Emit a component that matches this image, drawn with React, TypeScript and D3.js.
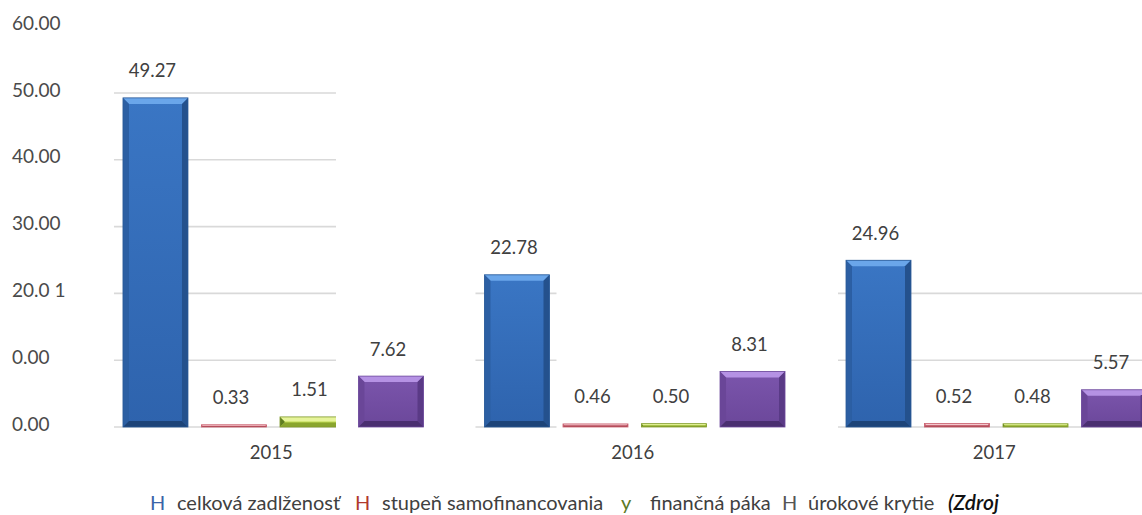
import React from "react";
import * as d3 from "d3";

const YEARS = ["2015", "2016", "2017"];
const SERIES = ["celková zadlženosť", "stupeň samofinancovania", "finančná páka", "úrokové krytie"];
const ZADLZENOST = [49.27, 22.78, 24.96];
const SAMOFINANCOVANIE = [0.33, 0.46, 0.52];
const PAKA = [1.51, 0.5, 0.48];
const KRYTIE = [7.62, 8.31, 5.57];
const Y_TICKS = [0, 10, 20, 30, 40, 50, 60];
const Y_TICK_LABELS = ["0.00", "0.00", "20.0 1", "30.00", "40.00", "50.00", "60.00"];
const LEGEND_MARKS = ["H", "H", "y", "H"];
const SOURCE_TEXT = "(Zdroj";
// gridlines that are visible in each year's segment of the (scanned) picture
const GRID_2015 = [0, 10, 20, 30, 40, 50];
const GRID_2016 = [0, 10, 20];
const GRID_2017 = [0, 10, 20];

const W = 1142;
const H = 515;
const FONT = "Lato, 'Open Sans', sans-serif";
const TEXT = "#404040";

const STYLES = [
  { face: "#3a76c4", faceDark: "#2e63ad", top: "#6aa6ea", side: "#2c5fa3", right: "#24518d", bottom: "#1d4478", stroke: "#2a5a97" },
  { face: "#e7a0aa", faceDark: "#d77f8c", top: "#f4c7cd", side: "#c96271", right: "#b8505f", bottom: "#a9414f", stroke: "#c9606f" },
  { face: "#c6df5c", faceDark: "#b6d245", top: "#e6f49a", side: "#5f7d22", right: "#9fbb3a", bottom: "#8aa52e", stroke: "#7f9a2c" },
  { face: "#7b55ac", faceDark: "#6b479a", top: "#b592e4", side: "#6a4698", right: "#5a3a86", bottom: "#4a2f70", stroke: "#6d4a9c" },
];
const LEGEND_COLORS = ["#3a64a8", "#b0392e", "#5d7a26", "#555555"];

function Bar({ x, y, w, h, s, id }: any) {
  const b = Math.max(0, Math.min(6, h / 2.2, w / 4));
  return (
    <g>
      <defs>
        <linearGradient id={id} x1="0" y1="0" x2="0" y2="1">
          <stop offset="0" stopColor={s.face} />
          <stop offset="1" stopColor={s.faceDark} />
        </linearGradient>
      </defs>
      <rect x={x} y={y} width={w} height={h} fill={`url(#${id})`} />
      <polygon points={`${x},${y} ${x + w},${y} ${x + w - b},${y + b} ${x + b},${y + b}`} fill={s.top} />
      <polygon points={`${x},${y} ${x + b},${y + b} ${x + b},${y + h - b} ${x},${y + h}`} fill={s.side} />
      <polygon points={`${x + w},${y} ${x + w - b},${y + b} ${x + w - b},${y + h - b} ${x + w},${y + h}`} fill={s.right} />
      <polygon points={`${x},${y + h} ${x + b},${y + h - b} ${x + w - b},${y + h - b} ${x + w},${y + h}`} fill={s.bottom} />
      <rect x={x} y={y} width={w} height={h} fill="none" stroke={s.stroke} strokeWidth={0.8} />
    </g>
  );
}

export default function App() {
  const values = [ZADLZENOST, SAMOFINANCOVANIE, PAKA, KRYTIE];
  const y = d3.scaleLinear().domain([0, 60]).range([427, 26.2]);
  const x0 = d3.scaleBand<string>().domain(YEARS).range([92.5, 1177]).paddingInner(0.1687).paddingOuter(0.0843);
  const x1 = d3.scaleBand<string>().domain(SERIES).range([0, x0.bandwidth()]).paddingInner(0.172).paddingOuter(0);
  const bw = x1.bandwidth();

  const gridSegs = [
    { vals: GRID_2015, a: x0(YEARS[0])! - 9, b: x0(YEARS[0])! + x1(SERIES[2])! + 56 },
    { vals: GRID_2016, a: x0(YEARS[1])! - 9, b: x0(YEARS[1])! + bw + 7 },
    { vals: GRID_2017, a: x0(YEARS[2])! - 8, b: W },
  ];
  const clip2015 = gridSegs[0];

  const legendLayout = [
    { mark: 150, label: 177 },
    { mark: 355, label: 382 },
    { mark: 621, label: 650 },
    { mark: 782, label: 808 },
  ];

  return (
    <svg width={W} height={H} style={{ position: "absolute", left: 0, top: 0, background: "#fff" }} fontFamily={FONT}>
      <defs>
        <clipPath id="clip2015">
          <rect x={clip2015.a} y={0} width={clip2015.b - clip2015.a} height={H} />
        </clipPath>
      </defs>
      {/* gridlines */}
      {gridSegs.map((g, i) =>
        g.vals.map((v) => (
          <line key={`g${i}-${v}`} x1={g.a} x2={g.b} y1={y(v)} y2={y(v)} stroke="#d9d9d9" strokeWidth={1.6} />
        ))
      )}
      {/* y tick labels */}
      {Y_TICKS.map((t, i) => (
        <text key={`yt${t}`} x={12} y={y(t) - 3} dy="0.35em" fontSize={19} fill="#4a4a4a">
          {Y_TICK_LABELS[i]}
        </text>
      ))}
      {/* bars */}
      {YEARS.map((yr, yi) => (
        <g key={yr} transform={`translate(${x0(yr)},0)`}>
          {SERIES.map((s, si) => {
            const v = values[si][yi];
            const bx = x1(s)!;
            const top = y(v);
            const h = y(0) - top;
            const bar = <Bar key={s} id={`gr${yi}${si}`} x={bx} y={top} w={bw} h={h} s={STYLES[si]} />;
            const clipped = yi === 0 && si === 2;
            return (
              <g key={s}>
                {clipped ? (
                  <g transform={`translate(${-x0(yr)!},0)`} clipPath="url(#clip2015)">
                    <g transform={`translate(${x0(yr)},0)`}>{bar}</g>
                  </g>
                ) : (
                  bar
                )}
                <text x={bx + bw / 2 - 3} y={top - 27} dy="0.35em" textAnchor="middle" fontSize={18.5} fill={TEXT}>
                  {v.toFixed(2)}
                </text>
              </g>
            );
          })}
          <text x={x0.bandwidth() / 2 - 2} y={453} dy="0.35em" textAnchor="middle" fontSize={18.5} fill={TEXT}>
            {yr}
          </text>
        </g>
      ))}
      {/* legend */}
      {SERIES.map((s, i) => (
        <g key={`lg${s}`}>
          <text x={legendLayout[i].mark} y={510} fontSize={20} fill={LEGEND_COLORS[i]}>
            {LEGEND_MARKS[i]}
          </text>
          <text x={legendLayout[i].label} y={510} fontSize={20} fill={TEXT}>
            {s}
          </text>
        </g>
      ))}
      <text x={948} y={510} fontSize={21} fontStyle="italic" fontWeight={600} fill="#111">
        {SOURCE_TEXT}
      </text>
    </svg>
  );
}
